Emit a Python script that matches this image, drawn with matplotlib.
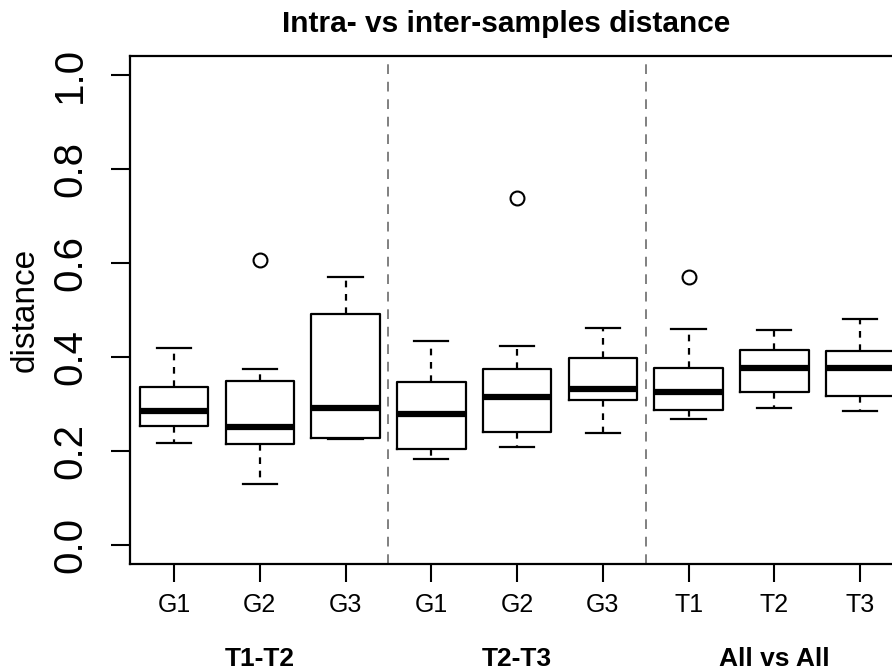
import matplotlib.pyplot as plt

plt.rcParams['font.family'] = ['Liberation Sans', 'DejaVu Sans']

# tick labels and groups
labels = ["G1", "G2", "G3", "G1", "G2", "G3", "T1", "T2", "T3"]
groups = ["T1-T2", "T2-T3", "All vs All"]

# box stats
whislo = [0.218, 0.131, 0.225, 0.183, 0.209, 0.238, 0.269, 0.291, 0.285]
q1 = [0.253, 0.215, 0.228, 0.204, 0.241, 0.308, 0.287, 0.325, 0.317]
med = [0.286, 0.252, 0.291, 0.278, 0.316, 0.331, 0.326, 0.377, 0.377]
q3 = [0.336, 0.350, 0.492, 0.347, 0.374, 0.398, 0.376, 0.415, 0.412]
whishi = [0.420, 0.374, 0.570, 0.434, 0.424, 0.462, 0.460, 0.457, 0.481]
fliers = [[], [0.607], [], [], [0.739], [], [0.570], [], []]

stats = []
for i in range(len(labels)):
    stats.append({"whislo": whislo[i], "q1": q1[i], "med": med[i], "q3": q3[i],
                  "whishi": whishi[i], "fliers": fliers[i]})

positions = list(range(1, len(labels) + 1))

fig = plt.figure(figsize=(8.92, 6.72), dpi=100)
ax = fig.add_axes([0.1452, 0.1607, 0.869, 0.756])

ax.bxp(stats, positions=positions, widths=0.8, showfliers=True,
       boxprops=dict(color="black", linewidth=1.6),
       whiskerprops=dict(color="black", linewidth=1.6, linestyle=(0, (3, 3))),
       capprops=dict(color="black", linewidth=1.6),
       medianprops=dict(color="black", linewidth=4.5, solid_capstyle="butt"),
       flierprops=dict(marker="o", markersize=10, markerfacecolor="none",
                       markeredgecolor="black", markeredgewidth=1.5),
       capwidths=0.4)

# separators between groups
for xv in [3.5, 6.5]:
    ax.axvline(xv, color="gray", linestyle=(0, (5, 4)), linewidth=1.4)

ax.set_xlim(0.48, 9.52)
ax.set_ylim(-0.04, 1.04)
ax.set_yticks([0.0, 0.2, 0.4, 0.6, 0.8, 1.0])
ax.set_yticklabels(["0.0", "0.2", "0.4", "0.6", "0.8", "1.0"], rotation=90, va="center")
ax.set_xticks(positions)
ax.set_xticklabels(labels)
ax.tick_params(axis="y", labelsize=29, length=14, width=1.5, pad=15)
ax.tick_params(axis="x", labelsize=18, length=13, width=1.5, pad=8)
for s in ax.spines.values():
    s.set_linewidth(1.6)

fig.text(25 / 892, 1 - 310 / 672, "distance", rotation=90, ha="center", va="center",
         fontsize=24)

for gi, g in enumerate(groups):
    ax.text(2 + 3 * gi, -0.257, g, ha="center", va="baseline", fontsize=19,
            fontweight="bold", transform=ax.transData, clip_on=False)

fig.text(506 / 892, 1 - 24 / 672, "Intra- vs inter-samples distance", ha="center",
         va="center", fontsize=21.5, fontweight="bold")

fig.savefig("out.png", dpi=100)
